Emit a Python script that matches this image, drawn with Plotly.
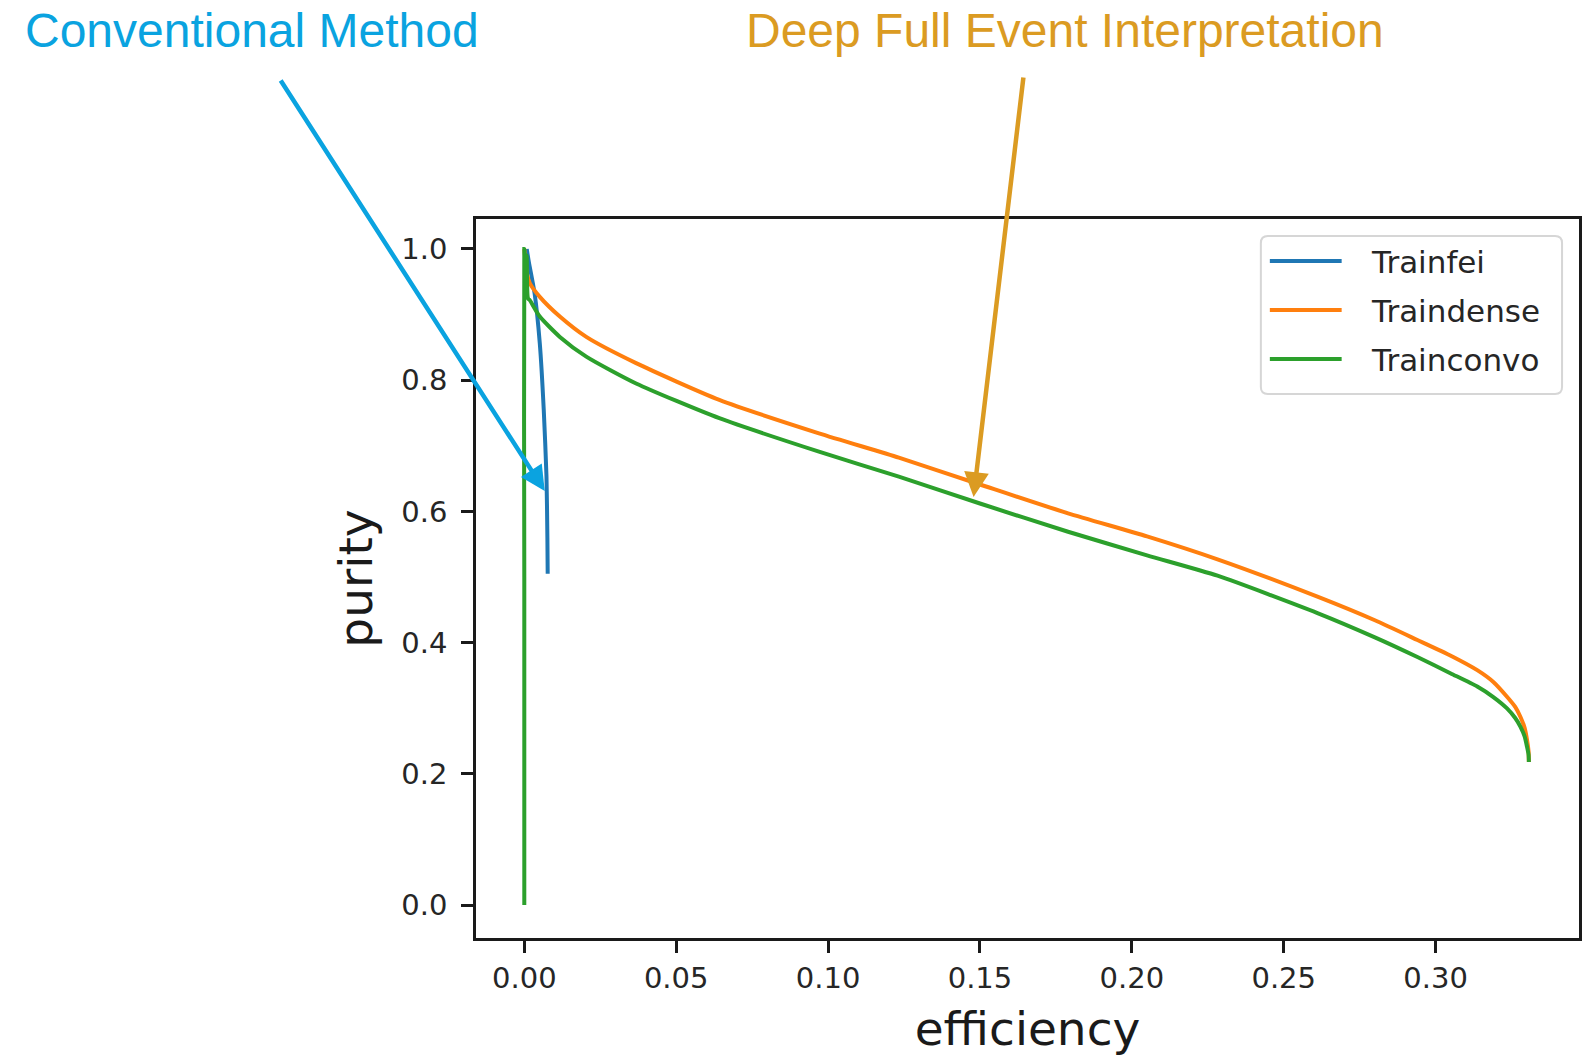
import plotly.graph_objects as go

# ---------------- data ----------------
series_names = ["Trainfei", "Traindense", "Trainconvo"]

fei_eff = [0.0008, 0.0015, 0.0034, 0.0051, 0.0064, 0.0073, 0.0076, 0.0077]
fei_pur = [1.000, 0.980, 0.932, 0.856, 0.755, 0.653, 0.560, 0.505]

dense_eff = [0.0, 0.0010, 0.0018, 0.0051, 0.0117, 0.0204, 0.0368, 0.0642, 0.0970,
             0.1233, 0.1500, 0.1790, 0.2050, 0.2282, 0.2611, 0.2800, 0.2940, 0.3050,
             0.3137, 0.3190, 0.3235, 0.3262, 0.3279, 0.3293, 0.3301, 0.3306, 0.3307]
dense_pur = [1.000, 0.960, 0.948, 0.927, 0.897, 0.866, 0.826, 0.770, 0.719,
             0.682, 0.641, 0.597, 0.562, 0.527, 0.470, 0.434, 0.404, 0.380,
             0.358, 0.340, 0.3175, 0.302, 0.287, 0.270, 0.2515, 0.234, 0.218]

convo_eff = [0.0, 0.0, 0.0, 0.0005, 0.0008, 0.0012, 0.0018, 0.0051, 0.0117, 0.0204, 0.0368,
             0.0642, 0.0970, 0.1233, 0.1500, 0.1790, 0.2050, 0.2282, 0.2611, 0.2800,
             0.2940, 0.3050, 0.3137, 0.3190, 0.3235, 0.3262, 0.3279, 0.3293, 0.3301,
             0.3306, 0.3307]
convo_pur = [0.0, 0.500, 1.000, 0.950, 0.990, 0.925, 0.922, 0.897, 0.866, 0.836, 0.795,
             0.742, 0.691, 0.653, 0.612, 0.569, 0.533, 0.502, 0.445, 0.408,
             0.378, 0.353, 0.333, 0.317, 0.2997, 0.285, 0.272, 0.257, 0.241,
             0.229, 0.218]

x_ticks = [0.0, 0.05, 0.10, 0.15, 0.20, 0.25, 0.30]
y_ticks = [0.0, 0.2, 0.4, 0.6, 0.8, 1.0]

colors = ["#1f77b4", "#ff7f0e", "#2ca02c"]

# ---------------- figure ----------------
W, H = 1584, 1060
L, R, T, B = 476, 2, 219, 122  # plot area pixels

def px_x(px):
    return (px - L) / (W - L - R)

def px_y(py):
    return (H - B - py) / (H - B - T)

fig = go.Figure()
for xs, ys, name, c in [(fei_eff, fei_pur, series_names[0], colors[0]),
                        (dense_eff, dense_pur, series_names[1], colors[1]),
                        (convo_eff, convo_pur, series_names[2], colors[2])]:
    fig.add_trace(go.Scatter(x=xs, y=ys, mode="lines", name=name,
                             line=dict(color=c, width=4, shape="spline", smoothing=0.6),
                             showlegend=False))

tick_font = dict(family="DejaVu Sans", size=29, color="#262626")
axis_common = dict(showline=True, mirror=True, linecolor="#1a1a1a", linewidth=2.5,
                   ticks="outside", ticklen=12, tickwidth=2.5, tickcolor="#1a1a1a",
                   showgrid=False, zeroline=False, tickfont=tick_font)

fig.update_layout(
    width=W, height=H, autosize=False,
    margin=dict(l=L, r=R, t=T, b=B, pad=0),
    paper_bgcolor="white", plot_bgcolor="white",
    xaxis=dict(range=[-0.0159, 0.3472], tickvals=x_ticks, tickformat=".2f",
               title=dict(text="efficiency", font=dict(family="DejaVu Sans", size=47, color="#1a1a1a"),
                          standoff=19),
               **axis_common),
    yaxis=dict(range=[-0.0503, 1.0457], tickvals=y_ticks, tickformat=".1f",
               ticklabelstandoff=8,
               title=dict(text="purity", font=dict(family="DejaVu Sans", size=47, color="#1a1a1a"),
                          standoff=14),
               **axis_common),
)

# ---------------- custom legend ----------------
bx0, bx1, by0, by1 = 1263, 1565, 236, 394
r = 7
def P(x, y):
    return f"{px_x(x):.5f},{px_y(y):.5f}"
path = (f"M {P(bx0 + r, by0)} L {P(bx1 - r, by0)} Q {P(bx1, by0)} {P(bx1, by0 + r)} "
        f"L {P(bx1, by1 - r)} Q {P(bx1, by1)} {P(bx1 - r, by1)} "
        f"L {P(bx0 + r, by1)} Q {P(bx0, by1)} {P(bx0, by1 - r)} "
        f"L {P(bx0, by0 + r)} Q {P(bx0, by0)} {P(bx0 + r, by0)} Z")
fig.add_shape(type="path", path=path, xref="paper", yref="paper",
              line=dict(color="#d6d6d6", width=2), fillcolor="rgba(255,255,255,0.85)")
row_y = [261, 310, 359]
for name, c, ry in zip(series_names, colors, row_y):
    fig.add_shape(type="line", xref="paper", yref="paper",
                  x0=px_x(1272), x1=px_x(1344), y0=px_y(ry), y1=px_y(ry),
                  line=dict(color=c, width=4))
    fig.add_annotation(text=name, xref="paper", yref="paper", x=px_x(1371), y=px_y(ry + 1),
                       xanchor="left", yanchor="middle", showarrow=False,
                       font=dict(family="DejaVu Sans", size=31, color="#262626"))

# ---------------- callouts ----------------
cyan = "#0aa3e0"
gold = "#db9b22"
fig.add_annotation(text="Conventional Method", xref="paper", yref="paper",
                   x=px_x(22), y=px_y(31), xanchor="left", yanchor="middle",
                   showarrow=False, font=dict(family="Liberation Sans", size=48, color=cyan))
fig.add_annotation(text="Deep Full Event Interpretation", xref="paper", yref="paper",
                   x=px_x(745), y=px_y(31), xanchor="left", yanchor="middle",
                   showarrow=False, font=dict(family="Liberation Sans", size=48, color=gold))

# arrows (tip in data coords, tail as pixel offset)
fig.add_annotation(text="", x=0.00673, y=0.631, xref="x", yref="y",
                   ax=-265, ay=-412, axref="pixel", ayref="pixel",
                   showarrow=True, arrowhead=2, arrowsize=1.1, arrowwidth=4.5,
                   arrowcolor=cyan, standoff=0)
fig.add_annotation(text="", x=0.1479, y=0.622, xref="x", yref="y",
                   ax=50, ay=-421, axref="pixel", ayref="pixel",
                   showarrow=True, arrowhead=2, arrowsize=1.1, arrowwidth=4.5,
                   arrowcolor=gold, standoff=0)

fig.write_html("out.html")
